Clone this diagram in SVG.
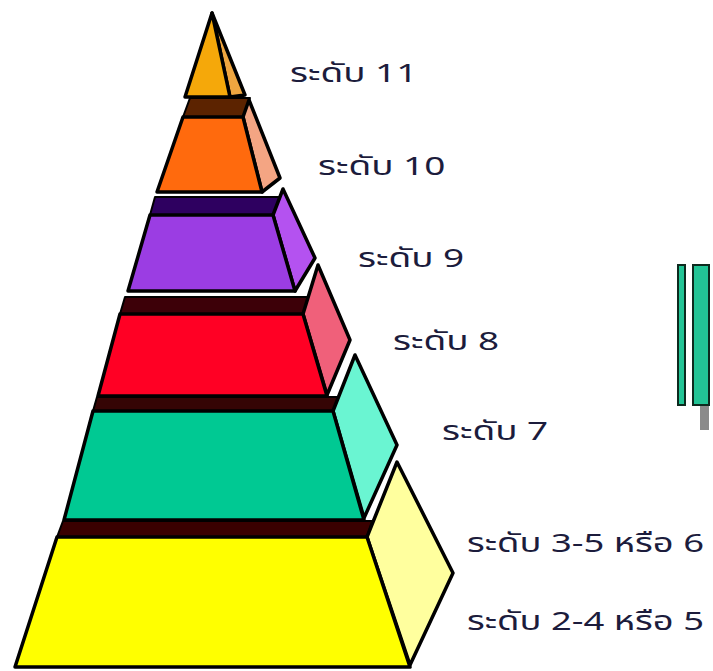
<svg xmlns="http://www.w3.org/2000/svg" width="713" height="671" viewBox="0 0 713 671">
<style>
.f{stroke:#000;stroke-width:3.5;stroke-linejoin:round}
.band{stroke:#000;stroke-width:2;stroke-linejoin:round}
.lbl{font-family:"Noto Sans Thai","Noto Sans","DejaVu Sans",sans-serif;font-size:26px;fill:#1c1c3c}
.bar{fill:#22C495;stroke:#0d2a1e;stroke-width:2}
</style>
<rect width="713" height="671" fill="#fff"/>
<g id="tier-11">
  <polygon class="f" points="212,13 230,97 245,95" fill="#EFA640"/>
  <polygon class="f" points="212,13 230,97 185,97" fill="#F5A80A"/>
</g>
<g id="tier-10">
  <polygon class="band" points="190,98 250,98 243,117 183,117" fill="#5C2300"/>
  <polygon class="f" points="243,117 249,100 280,178 262,192" fill="#F4A583"/>
  <polygon class="f" points="183,117 243,117 262,192 157,192" fill="#FF6A0D"/>
</g>
<g id="tier-9">
  <polygon class="band" points="155,197 283,197 273,215 150,215" fill="#2E0060"/>
  <polygon class="f" points="273,215 283,189 315,258 295,291" fill="#B452F0"/>
  <polygon class="f" points="150,215 273,215 295,291 128,291" fill="#9B3DE3"/>
</g>
<g id="tier-8">
  <polygon class="band" points="125,297 313,297 303,314 120,314" fill="#3D0008"/>
  <polygon class="f" points="303,314 318,265 350,340 327,395" fill="#F0607A"/>
  <polygon class="f" points="120,314 303,314 327,396 98,396" fill="#FF0024"/>
</g>
<g id="tier-7">
  <polygon class="band" points="97,397 340,397 333,411 93,411" fill="#350505"/>
  <polygon class="f" points="333,411 355,355 397,445 364,518" fill="#6AF5D2"/>
  <polygon class="f" points="93,411 333,411 364,520 64,520" fill="#00C993"/>
</g>
<g id="tier-base">
  <polygon class="band" points="63,521 372,521 367,537 57,537" fill="#3A0000"/>
  <polygon class="f" points="367,537 397,462 453,573 410,665" fill="#FFFF9E"/>
  <polygon class="f" points="57,537 367,537 410,667 15,667" fill="#FFFF00"/>
</g>
<g id="labels">
  <text class="lbl" transform="translate(290,82) scale(1.42,1)">ระดับ 11</text>
  <text class="lbl" transform="translate(318,175) scale(1.42,1)">ระดับ 10</text>
  <text class="lbl" transform="translate(358,267) scale(1.42,1)">ระดับ 9</text>
  <text class="lbl" transform="translate(393,350) scale(1.42,1)">ระดับ 8</text>
  <text class="lbl" transform="translate(442,440) scale(1.42,1)">ระดับ 7</text>
  <text class="lbl" transform="translate(467,552) scale(1.4,1)">ระดับ 3-5 หรือ 6</text>
  <text class="lbl" transform="translate(467,630) scale(1.4,1)">ระดับ 2-4 หรือ 5</text>
</g>
<g id="side-bars">
  <rect x="700" y="404" width="9" height="26" fill="#8a8a8a"/>
  <rect class="bar" x="678" y="265" width="7" height="140"/>
  <rect class="bar" x="693" y="265" width="16" height="140"/>
</g>
</svg>
